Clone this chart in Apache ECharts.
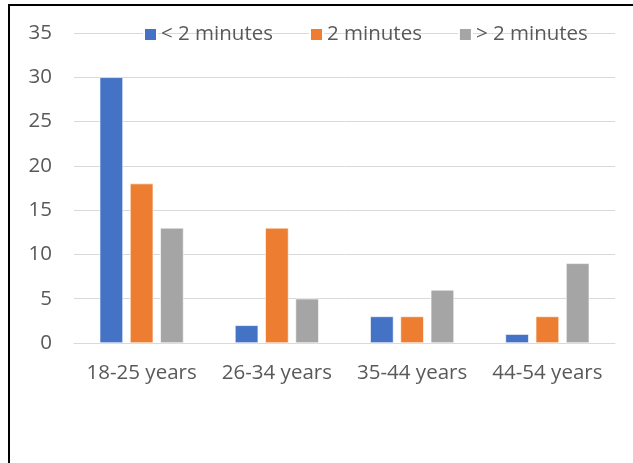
<!DOCTYPE html>
<html>
<head>
<meta charset="utf-8">
<script src="https://cdn.jsdelivr.net/npm/echarts@6/dist/echarts.min.js"></script>
<style>
  html, body { margin: 0; padding: 0; background: #fff; }
  #chart { width: 633px; height: 463px; }
</style>
</head>
<body>
<div id="chart"></div>
<script>
// Age groups and counts per response time
const categories = ['18-25 years', '26-34 years', '35-44 years', '44-54 years'];
const seriesNames = ['< 2 minutes', '2 minutes', '> 2 minutes'];
const lessThan2 = [30, 2, 3, 1];
const exactly2 = [18, 13, 3, 3];
const moreThan2 = [13, 5, 6, 9];
const colors = ['#4472C4', '#ED7D31', '#A5A5A5'];

const FONT = 'Open Sans';
const chart = echarts.init(document.getElementById('chart'));

const makeBar = (name, data, color) => ({
  name,
  type: 'bar',
  data,
  barGap: '30%',
  barCategoryGap: '38%',
  itemStyle: { color, borderColor: '#ffffff', borderWidth: 0.6 }
});

chart.setOption({
  animation: false,
  color: colors,
  textStyle: { fontFamily: FONT },
  legend: {
    top: 19,
    left: 143,
    padding: [5, 0, 5, 0],
    itemWidth: 13,
    itemHeight: 13,
    itemGap: 36,
    icon: 'rect',
    textStyle: { fontFamily: FONT, fontSize: 20.5, color: '#595959', padding: [0, 0, 0, -1] },
    data: seriesNames
  },
  grid: { left: 74, right: 18, top: 33, bottom: 120, containLabel: false },
  xAxis: {
    type: 'category',
    data: categories,
    axisLine: { lineStyle: { color: '#D9D9D9', width: 1 } },
    axisTick: { show: false },
    axisLabel: {
      interval: 0,
      hideOverlap: false,
      fontFamily: FONT,
      fontSize: 20.5,
      color: '#595959',
      margin: 20
    }
  },
  yAxis: {
    type: 'value',
    min: 0,
    max: 35,
    interval: 5,
    axisLine: { show: false },
    axisTick: { show: false },
    splitLine: { lineStyle: { color: '#D9D9D9', width: 1 } },
    axisLabel: { fontFamily: FONT, fontSize: 20.5, color: '#595959', margin: 22 }
  },
  graphic: [{
    type: 'polyline',
    shape: { points: [[9, 463], [9, 5], [633, 5]] },
    style: { stroke: '#000000', lineWidth: 2, fill: null },
    silent: true
  }],
  series: [
    makeBar(seriesNames[0], lessThan2, colors[0]),
    makeBar(seriesNames[1], exactly2, colors[1]),
    makeBar(seriesNames[2], moreThan2, colors[2])
  ]
});
</script>
</body>
</html>
